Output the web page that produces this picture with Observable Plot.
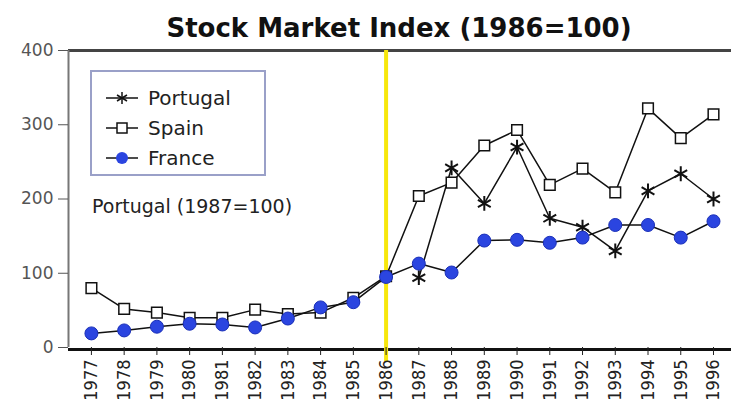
<!DOCTYPE html>
<html><head><meta charset="utf-8">
<script src="https://cdn.jsdelivr.net/npm/d3@7"></script>
<script src="https://cdn.jsdelivr.net/npm/@observablehq/plot@0.6"></script>
<style>
body{margin:0;background:#fff;font-family:"DejaVu Sans",sans-serif;}
#wrap{position:relative;width:731px;height:417px;}
#title{height:32px;position:relative;}
#title span{position:absolute;left:0;width:798px;top:14px;text-align:center;font-weight:bold;font-size:26px;line-height:28px;color:#111;white-space:nowrap;}
#legend{position:absolute;left:90px;top:70px;width:176px;height:106px;border:2px solid #9aa0c8;box-sizing:border-box;font-size:20px;color:#222;}
.row{position:absolute;left:12px;height:24px;display:flex;align-items:center;}
.row span{margin-left:8px;}
#note{position:absolute;left:92px;top:195px;font-size:19px;color:#222;white-space:nowrap;}
</style></head>
<body><div id="wrap"><div id="title"><span>Stock Market Index (1986=100)</span></div><div id="chart"></div>
<div id="legend">
<div class="row" style="top:14px"><svg width="36" height="20"><line x1="2" y1="10" x2="34" y2="10" stroke="#111" stroke-width="1.5"/><g stroke="#111" stroke-width="1.5"><line x1="18" y1="4" x2="18" y2="16"/><line x1="13" y1="7" x2="23" y2="13"/><line x1="13" y1="13" x2="23" y2="7"/></g></svg><span>Portugal</span></div>
<div class="row" style="top:44px"><svg width="36" height="20"><line x1="2" y1="10" x2="34" y2="10" stroke="#111" stroke-width="1.5"/><rect x="13" y="5" width="10" height="10" fill="#fff" stroke="#111" stroke-width="1.5"/></svg><span>Spain</span></div>
<div class="row" style="top:74px"><svg width="36" height="20"><line x1="2" y1="10" x2="34" y2="10" stroke="#111" stroke-width="1.5"/><circle cx="18" cy="10" r="6" fill="#2b45e0"/></svg><span>France</span></div>
</div>
<div id="note">Portugal (1987=100)</div>
</div>
<script>
const years = [1977,1978,1979,1980,1981,1982,1983,1984,1985,1986,1987,1988,1989,1990,1991,1992,1993,1994,1995,1996];
const spain = [80,52,47,40,40,51,45,47,67,96,204,222,272,293,219,241,209,322,282,314];
const france = [19,23,28,32,31,27,39,54,61,95,113,101,144,145,141,148,165,165,148,170];
const portugalYears = [1987,1988,1989,1990,1991,1992,1993,1994,1995,1996];
const portugal = [94,242,194,270,174,162,130,211,234,200];
const yTicks = [0,100,200,300,400];
const markerYear = 1986;

const sp = years.map((y,i)=>({year:y,value:spain[i]}));
const fr = years.map((y,i)=>({year:y,value:france[i]}));
const pt = portugalYears.map((y,i)=>({year:y,value:portugal[i]}));

const chart = Plot.plot({
  width:731, height:385,
  marginLeft:68, marginRight:0, marginTop:18, marginBottom:70,
  style:{fontFamily:"DejaVu Sans, sans-serif", background:"transparent"},
  x:{domain:[1976.3,1996.55], label:null},
  y:{domain:[0,400], label:null},
  marks:[
    Plot.ruleY([400],{stroke:"#444",strokeWidth:3}),
    Plot.ruleX([1976.3],{stroke:"#777",strokeWidth:2}),
    Plot.ruleY([0],{stroke:"#111",strokeWidth:3, dy:2}),
    Plot.ruleX([markerYear],{y1:400,y2:0,stroke:"#f7e70c",strokeWidth:4,insetBottom:-14}),
    Plot.line(sp,{x:"year",y:"value",stroke:"#111",strokeWidth:1.5}),
    Plot.line(pt,{x:"year",y:"value",stroke:"#111",strokeWidth:1.5}),
    Plot.line(fr,{x:"year",y:"value",stroke:"#111",strokeWidth:1.5}),
    Plot.dot(sp,{x:"year",y:"value",symbol:"square",r:6,fill:"#fff",stroke:"#111",strokeWidth:1.5}),
    Plot.dot(pt,{x:"year",y:"value",symbol:"asterisk",r:7,stroke:"#111",strokeWidth:2}),
    Plot.dot(fr,{x:"year",y:"value",symbol:"circle",r:6.5,fill:"#2b45e0",stroke:"#1a2fb8",strokeWidth:1}),
    Plot.axisY({ticks:yTicks,tickSize:10,tickPadding:5,fontSize:17,color:"#555",label:null}),
    Plot.axisX({ticks:years,tickFormat:d=>String(d),tickRotate:-90,tickSize:8,tickPadding:4,fontSize:18,label:null,color:"#222",fontFamily:"DejaVu Sans Condensed, DejaVu Sans, sans-serif"})
  ]
});
document.getElementById("chart").appendChild(chart);
</script></body></html>
